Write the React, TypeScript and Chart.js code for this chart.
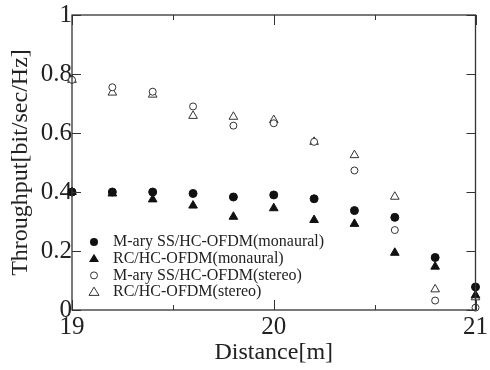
import React, { useEffect, useRef } from "react";
import { Chart, registerables } from "chart.js";

Chart.register(...registerables);

const distances = [19, 19.2, 19.4, 19.6, 19.8, 20, 20.2, 20.4, 20.6, 20.8, 21];
const marySSMono = [0.4, 0.4, 0.4, 0.395, 0.383, 0.39, 0.377, 0.337, 0.314, 0.178, 0.078];
const rcMono = [0.4, 0.395, 0.375, 0.354, 0.316, 0.345, 0.305, 0.292, 0.194, 0.147, 0.05];
const marySSStereo = [0.78, 0.755, 0.74, 0.69, 0.625, 0.633, 0.57, 0.473, 0.271, 0.032, 0.008];
const rcStereo = [0.78, 0.737, 0.73, 0.658, 0.655, 0.644, 0.57, 0.525, 0.384, 0.07, 0.043];

const seriesLabels = [
  "M-ary SS/HC-OFDM(monaural)",
  "RC/HC-OFDM(monaural)",
  "M-ary SS/HC-OFDM(stereo)",
  "RC/HC-OFDM(stereo)",
];
const xTitle = "Distance[m]";
const yTitle = "Throughput[bit/sec/Hz]";

const FONT = "'Liberation Serif', 'Times New Roman', serif";
const INK = "#222";
const LINE = "#333";

function drawMarker(ctx: CanvasRenderingContext2D, style: string, filled: boolean, x: number, y: number, r: number) {
  ctx.beginPath();
  if (style === "circle") {
    ctx.arc(x, y, r, 0, Math.PI * 2);
  } else {
    const h = r * 1.5;
    ctx.moveTo(x, y - h * 0.66);
    ctx.lineTo(x + r * 1.0, y + h * 0.44);
    ctx.lineTo(x - r * 1.0, y + h * 0.44);
    ctx.closePath();
  }
  if (filled) {
    ctx.fillStyle = "#111";
    ctx.fill();
  } else {
    ctx.fillStyle = "#fff";
    ctx.fill();
    ctx.strokeStyle = LINE;
    ctx.lineWidth = 1;
    ctx.stroke();
  }
}

const framePlugin = {
  id: "frameTicks",
  afterDraw(chart: any) {
    const { ctx, chartArea } = chart;
    const { left, right, top, bottom } = chartArea;
    const xs = chart.scales.x;
    const ys = chart.scales.y;
    ctx.save();
    ctx.strokeStyle = LINE;
    ctx.lineWidth = 1.3;
    ctx.strokeRect(left, top, right - left, bottom - top);
    ctx.lineWidth = 1;
    ys.ticks.forEach((t: any) => {
      const major = Math.round(t.value * 10) % 2 === 0;
      const len = major ? 9 : 4;
      const py = Math.round(ys.getPixelForValue(t.value)) + 0.5;
      ctx.beginPath();
      ctx.moveTo(left, py);
      ctx.lineTo(left + len, py);
      ctx.moveTo(right, py);
      ctx.lineTo(right - len, py);
      ctx.stroke();
    });
    xs.ticks.forEach((t: any) => {
      const major = Math.abs(t.value - Math.round(t.value)) < 1e-6;
      const len = major ? 10 : 5;
      const px = Math.round(xs.getPixelForValue(t.value)) + 0.5;
      ctx.beginPath();
      ctx.moveTo(px, bottom);
      ctx.lineTo(px, bottom - len);
      ctx.moveTo(px, top);
      ctx.lineTo(px, top + len);
      ctx.stroke();
    });
    // legend
    ctx.font = `16px ${FONT}`;
    ctx.textBaseline = "middle";
    ctx.textAlign = "left";
    chart.data.datasets.forEach((ds: any, i: number) => {
      const y = 242 + i * 16.7;
      const filled = ds.backgroundColor !== "#fff";
      drawMarker(ctx, ds.pointStyle, filled, 94, y, ds.pointStyle === "circle" ? (filled ? 4 : 3.5) : 5);
      ctx.fillStyle = INK;
      ctx.fillText(ds.label, 113, y);
    });
    ctx.restore();
  },
};

export default function App() {
  const ref = useRef<HTMLCanvasElement>(null);
  useEffect(() => {
    document.body.style.margin = "0";
    const mk = (label: string, data: number[], style: string, filled: boolean, r: number) => ({
      label,
      data: distances.map((d, i) => ({ x: d, y: data[i] })),
      pointStyle: style,
      backgroundColor: filled ? "#111" : "#fff",
      borderColor: filled ? "#111" : LINE,
      borderWidth: 1,
      pointRadius: r,
      showLine: false,
    });
    const chart = new Chart(ref.current as HTMLCanvasElement, {
      type: "scatter",
      data: {
        datasets: [
          mk(seriesLabels[0], marySSMono, "circle", true, 4),
          mk(seriesLabels[1], rcMono, "triangle", true, 5),
          mk(seriesLabels[2], marySSStereo, "circle", false, 3.5),
          mk(seriesLabels[3], rcStereo, "triangle", false, 5),
        ],
      } as any,
      options: {
        animation: false,
        responsive: false,
        clip: false as any,
        layout: { padding: { top: 15, right: 7, left: 0, bottom: 0 } },
        plugins: { legend: { display: false }, tooltip: { enabled: false } },
        scales: {
          x: {
            type: "linear",
            min: 19,
            max: 21,
            grid: { display: false, drawTicks: false },
            border: { display: false },
            ticks: {
              stepSize: 0.5,
              padding: 2,
              color: INK,
              font: { family: FONT, size: 25 },
              maxRotation: 0,
              callback: (v: any) => (Math.abs(v - Math.round(v)) < 1e-6 ? String(Math.round(v)) : ""),
            },
            title: {
              display: true,
              text: xTitle,
              color: INK,
              font: { family: FONT, size: 24 },
              padding: { top: 0, bottom: 3 },
            },
            afterFit: (s: any) => {
              s.height = 60;
            },
          },
          y: {
            type: "linear",
            min: 0,
            max: 1,
            grid: { display: false, drawTicks: false },
            border: { display: false },
            ticks: {
              stepSize: 0.1,
              padding: 0,
              color: INK,
              font: { family: FONT, size: 25 },
              callback: (v: any) => {
                const k = Math.round(v * 10);
                if (k % 2 !== 0) return "";
                if (k === 0) return "0";
                if (k === 10) return "1";
                return (k / 10).toFixed(1);
              },
            },
            title: {
              display: true,
              text: yTitle,
              color: INK,
              font: { family: FONT, size: 24 },
              padding: { top: 6, bottom: 0 },
            },
            afterFit: (s: any) => {
              s.width = 72;
            },
          },
        },
      },
      plugins: [framePlugin],
    });
    return () => chart.destroy();
  }, []);
  return (
    <div style={{ width: 490, height: 370 }}>
      <canvas ref={ref} width={490} height={370} />
    </div>
  );
}
